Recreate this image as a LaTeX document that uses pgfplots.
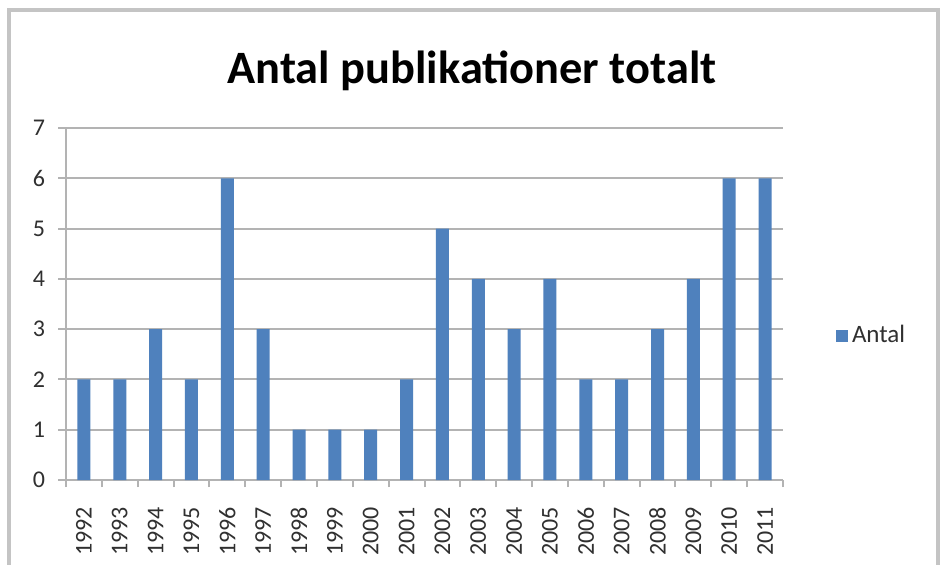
\documentclass[border=0pt]{standalone}
\usepackage{pgfplots}
\pgfplotsset{compat=1.18}
\usepackage{fontspec}
\setmainfont{Carlito}
\definecolor{barblue}{HTML}{4F81BD}
\definecolor{gridgray}{HTML}{B3B3B3}
\definecolor{framegray}{HTML}{C4C4C4}
\definecolor{labgray}{HTML}{303030}
\begin{document}
\begin{tikzpicture}
\path[use as bounding box] (0,0) rectangle (473pt,282pt);
\fill[white] (0,0) rectangle (473pt,282pt);
\draw[framegray, line width=1.6pt] (4.5pt,-2pt) -- (4.5pt,277pt) -- (469pt,277pt) -- (469pt,-2pt);
\node[font=\fontsize{23.2}{27}\selectfont\bfseries] at (236pt,246.5pt) {Antal publikationer totalt};
\begin{axis}[
  at={(33pt,42pt)}, anchor=south west,
  scale only axis, width=358.5pt, height=176pt,
  xmin=-0.5, xmax=19.5, ymin=0, ymax=7,
  axis x line*=bottom, axis y line*=left,
  axis line style={gridgray, line width=1pt},
  ytick={0,...,7},
  ymajorgrids, grid style={gridgray, line width=1pt},
  xtick={0,...,19},
  xticklabels={1992,1993,1994,1995,1996,1997,1998,1999,2000,2001,2002,2003,2004,2005,2006,2007,2008,2009,2010,2011},
  x tick label style={rotate=90, anchor=east, font=\fontsize{12}{14}\selectfont, text=labgray},
  y tick label style={font=\fontsize{12}{14}\selectfont, text=labgray},
  major x tick style={draw=none},
  minor xtick={-0.5,0.5,...,19.5},
  minor x tick style={gridgray, line width=1pt},
  minor tick length=3.5pt,
  major tick length=4pt,
  ytick style={gridgray, line width=1pt},
  tick align=outside,
  xticklabel shift=6pt,
  yticklabel shift=3pt,
  /pgf/number format/assume math mode=true,
  legend style={draw=none, fill=none, at={(1.065,0.41)}, anchor=west, font=\fontsize{12.5}{14}\selectfont, text=labgray},
  legend image code/.code={\fill[barblue] (0pt,-3pt) rectangle (6pt,3pt);},
]
\addplot[ybar, bar width=6.5pt, fill=barblue, draw=none] coordinates {
(0,2) (1,2) (2,3) (3,2) (4,6) (5,3) (6,1) (7,1) (8,1) (9,2)
(10,5) (11,4) (12,3) (13,4) (14,2) (15,2) (16,3) (17,4) (18,6) (19,6)};
\addlegendentry{Antal}
\end{axis}
\end{tikzpicture}
\end{document}
